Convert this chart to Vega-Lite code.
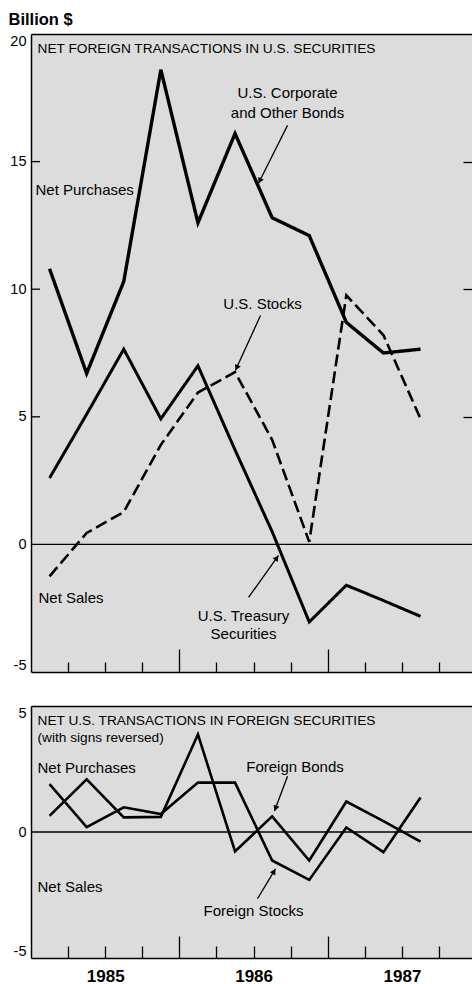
{
  "$schema": "https://vega.github.io/schema/vega-lite/v6.json",
  "padding": {"left": 8, "top": 12, "right": 0, "bottom": 2},
  "bounds": "flush",
  "spacing": 34,
  "config": {
    "view": {"stroke": null, "fill": "#dcdcdc"},
    "font": "Liberation Sans",
    "axis": {"grid": false, "domainColor": "black", "tickColor": "black", "labelColor": "black", "domainWidth": 1.5, "tickWidth": 1.3, "title": null},
    "text": {"font": "Liberation Sans", "fontSize": 15, "color": "black"}
  },
  "datasets": {
    "one": [{}],
    "yticks": [{"v": 5}, {"v": 10}, {"v": 15}],
    "us": [
      {"q": 0.5, "v": 10.8, "s": "Corporate"}, {"q": 1.5, "v": 6.7, "s": "Corporate"}, {"q": 2.5, "v": 10.3, "s": "Corporate"}, {"q": 3.5, "v": 18.6, "s": "Corporate"}, {"q": 4.5, "v": 12.6, "s": "Corporate"}, {"q": 5.5, "v": 16.1, "s": "Corporate"}, {"q": 6.5, "v": 12.8, "s": "Corporate"}, {"q": 7.5, "v": 12.1, "s": "Corporate"}, {"q": 8.5, "v": 8.7, "s": "Corporate"}, {"q": 9.5, "v": 7.5, "s": "Corporate"}, {"q": 10.5, "v": 7.65, "s": "Corporate"},
      {"q": 0.5, "v": 2.6, "s": "Treasury"}, {"q": 1.5, "v": 5.1, "s": "Treasury"}, {"q": 2.5, "v": 7.65, "s": "Treasury"}, {"q": 3.5, "v": 4.92, "s": "Treasury"}, {"q": 4.5, "v": 7.0, "s": "Treasury"}, {"q": 5.5, "v": 3.7, "s": "Treasury"}, {"q": 6.5, "v": 0.5, "s": "Treasury"}, {"q": 7.5, "v": -3.04, "s": "Treasury"}, {"q": 8.5, "v": -1.6, "s": "Treasury"}, {"q": 9.5, "v": -2.2, "s": "Treasury"}, {"q": 10.5, "v": -2.82, "s": "Treasury"},
      {"q": 0.5, "v": -1.25, "s": "Stocks"}, {"q": 1.5, "v": 0.45, "s": "Stocks"}, {"q": 2.5, "v": 1.27, "s": "Stocks"}, {"q": 3.5, "v": 3.9, "s": "Stocks"}, {"q": 4.5, "v": 5.95, "s": "Stocks"}, {"q": 5.5, "v": 6.75, "s": "Stocks"}, {"q": 6.5, "v": 4.1, "s": "Stocks"}, {"q": 7.5, "v": 0.1, "s": "Stocks"}, {"q": 8.5, "v": 9.76, "s": "Stocks"}, {"q": 9.5, "v": 8.2, "s": "Stocks"}, {"q": 10.5, "v": 4.92, "s": "Stocks"}
    ],
    "foreign": [
      {"q": 0.5, "v": 1.9, "s": "Foreign Stocks"}, {"q": 1.5, "v": 0.19, "s": "Foreign Stocks"}, {"q": 2.5, "v": 0.98, "s": "Foreign Stocks"}, {"q": 3.5, "v": 0.71, "s": "Foreign Stocks"}, {"q": 4.5, "v": 1.96, "s": "Foreign Stocks"}, {"q": 5.5, "v": 1.96, "s": "Foreign Stocks"}, {"q": 6.5, "v": -1.13, "s": "Foreign Stocks"}, {"q": 7.5, "v": -1.9, "s": "Foreign Stocks"}, {"q": 8.5, "v": 0.18, "s": "Foreign Stocks"}, {"q": 9.5, "v": -0.8, "s": "Foreign Stocks"}, {"q": 10.5, "v": 1.37, "s": "Foreign Stocks"},
      {"q": 0.5, "v": 0.64, "s": "Foreign Bonds"}, {"q": 1.5, "v": 2.09, "s": "Foreign Bonds"}, {"q": 2.5, "v": 0.58, "s": "Foreign Bonds"}, {"q": 3.5, "v": 0.6, "s": "Foreign Bonds"}, {"q": 4.5, "v": 3.87, "s": "Foreign Bonds"}, {"q": 5.5, "v": -0.77, "s": "Foreign Bonds"}, {"q": 6.5, "v": 0.62, "s": "Foreign Bonds"}, {"q": 7.5, "v": -1.13, "s": "Foreign Bonds"}, {"q": 8.5, "v": 1.21, "s": "Foreign Bonds"}, {"q": 9.5, "v": 0.43, "s": "Foreign Bonds"}, {"q": 10.5, "v": -0.38, "s": "Foreign Bonds"}
    ]
  },
  "vconcat": [
    {
      "width": 441,
      "height": 638,
      "resolve": {"axis": {"x": "independent", "y": "independent"}},
      "layer": [
        {
          "data": {"name": "one"},
          "mark": {"type": "rule", "color": "black", "strokeWidth": 1.3},
          "encoding": {
            "y": {"datum": 0, "type": "quantitative", "scale": {"domain": [-5, 20], "nice": false, "zero": false},
                  "axis": {"orient": "right", "values": [5, 10, 15], "tickSize": -9, "labels": false, "domain": false}}
          }
        },
        {
          "data": {"name": "yticks"},
          "mark": {"type": "rule", "color": "black", "strokeWidth": 1.3},
          "encoding": {
            "y": {"field": "v", "type": "quantitative", "axis": null},
            "x": {"datum": 0, "type": "quantitative", "axis": null},
            "x2": {"datum": 0.243}
          }
        },
        {
          "data": {"name": "us"},
          "mark": {"type": "line", "color": "black"},
          "encoding": {
            "x": {"field": "q", "type": "quantitative", "scale": {"domain": [0, 11.887], "nice": false, "zero": false},
                  "axis": {"orient": "bottom", "values": [1, 2, 3, 4, 5, 6, 7, 8, 9, 10, 11], "labels": false,
                           "tickSize": {"condition": {"test": "datum.value == 4 || datum.value == 8", "value": -23}, "value": -10}}},
            "y": {"field": "v", "type": "quantitative", "scale": {"domain": [-5, 20], "nice": false, "zero": false},
                  "axis": {"orient": "left", "values": [-5, 0, 5, 10, 15, 20], "ticks": false,
                           "labelPadding": 5, "labelFlush": true, "labelFontSize": 14.5, "labelFont": "Liberation Sans", "labelExpr": "replace(datum.label, '\u2212', '-')"}},
            "strokeDash": {"field": "s", "type": "nominal", "scale": {"domain": ["Corporate", "Treasury", "Stocks"], "range": [[1, 0], [1, 0], [12, 5]]}, "legend": null},
            "strokeWidth": {"field": "s", "type": "nominal", "scale": {"domain": ["Corporate", "Treasury", "Stocks"], "range": [3.4, 2.6, 2.6]}, "legend": null}
          }
        },
        {
          "data": {"name": "one"},
          "mark": {"type": "text", "align": "left", "baseline": "alphabetic", "fontSize": 13.7},
          "encoding": {
            "x": {"datum": 0.175, "type": "quantitative", "axis": {"orient": "top", "ticks": false, "labels": false, "domain": true}},
            "y": {"datum": 19.24, "type": "quantitative", "axis": null},
            "text": {"value": "NET FOREIGN TRANSACTIONS IN U.S. SECURITIES"}
          }
        },
        {
          "data": {"name": "one"},
          "mark": {"type": "text", "align": "left", "baseline": "alphabetic", "fontWeight": "bold", "fontSize": 16.5},
          "encoding": {
            "x": {"datum": -0.606, "type": "quantitative", "axis": null},
            "y": {"datum": 20.34, "type": "quantitative", "axis": null},
            "text": {"value": "Billion $"}
          }
        },
        {
          "data": {"name": "one"},
          "mark": {"type": "text", "align": "center", "baseline": "alphabetic", "lineHeight": 20},
          "encoding": {
            "x": {"datum": 6.914, "type": "quantitative", "axis": null},
            "y": {"datum": 17.48, "type": "quantitative", "axis": null},
            "text": {"value": ["U.S. Corporate", "and Other Bonds"]}
          }
        },
        {
          "data": {"name": "one"},
          "mark": {"type": "text", "align": "left", "baseline": "alphabetic"},
          "encoding": {
            "x": {"datum": 0.121, "type": "quantitative", "axis": null},
            "y": {"datum": 13.68, "type": "quantitative", "axis": null},
            "text": {"value": "Net Purchases"}
          }
        },
        {
          "data": {"name": "one"},
          "mark": {"type": "text", "align": "center", "baseline": "alphabetic"},
          "encoding": {
            "x": {"datum": 6.24, "type": "quantitative", "axis": null},
            "y": {"datum": 9.21, "type": "quantitative", "axis": null},
            "text": {"value": "U.S. Stocks"}
          }
        },
        {
          "data": {"name": "one"},
          "mark": {"type": "text", "align": "left", "baseline": "alphabetic"},
          "encoding": {
            "x": {"datum": 0.202, "type": "quantitative", "axis": null},
            "y": {"datum": -2.31, "type": "quantitative", "axis": null},
            "text": {"value": "Net Sales"}
          }
        },
        {
          "data": {"name": "one"},
          "mark": {"type": "text", "align": "center", "baseline": "alphabetic", "lineHeight": 18},
          "encoding": {
            "x": {"datum": 5.728, "type": "quantitative", "axis": null},
            "y": {"datum": -3.02, "type": "quantitative", "axis": null},
            "text": {"value": ["U.S. Treasury", "Securities"]}
          }
        },
        {
          "data": {"name": "one"},
          "mark": {"type": "rule", "color": "black", "strokeWidth": 1.3},
          "encoding": {
            "x": {"datum": 6.914, "type": "quantitative", "axis": null},
            "x2": {"datum": 6.132},
            "y": {"datum": 16.42, "type": "quantitative", "axis": null},
            "y2": {"datum": 14.15}
          }
        },
        {
          "data": {"name": "one"},
          "mark": {"type": "rule", "color": "black", "strokeWidth": 1.3},
          "encoding": {
            "x": {"datum": 6.186, "type": "quantitative", "axis": null},
            "x2": {"datum": 5.512},
            "y": {"datum": 8.97, "type": "quantitative", "axis": null},
            "y2": {"datum": 6.82}
          }
        },
        {
          "data": {"name": "one"},
          "mark": {"type": "rule", "color": "black", "strokeWidth": 1.3},
          "encoding": {
            "x": {"datum": 5.863, "type": "quantitative", "axis": null},
            "x2": {"datum": 6.671},
            "y": {"datum": -2.08, "type": "quantitative", "axis": null},
            "y2": {"datum": -0.43}
          }
        },
        {
          "data": {"name": "one"},
          "mark": {"type": "point", "shape": "triangle-up", "filled": true, "color": "black", "opacity": 1, "size": 40, "angle": 206.6},
          "encoding": {
            "x": {"datum": 6.167, "type": "quantitative", "axis": null},
            "y": {"datum": 14.25, "type": "quantitative", "axis": null}
          }
        },
        {
          "data": {"name": "one"},
          "mark": {"type": "point", "shape": "triangle-up", "filled": true, "color": "black", "opacity": 1, "size": 40, "angle": 204.4},
          "encoding": {
            "x": {"datum": 5.545, "type": "quantitative", "axis": null},
            "y": {"datum": 6.92, "type": "quantitative", "axis": null}
          }
        },
        {
          "data": {"name": "one"},
          "mark": {"type": "point", "shape": "triangle-up", "filled": true, "color": "black", "opacity": 1, "size": 40, "angle": 35.5},
          "encoding": {
            "x": {"datum": 6.625, "type": "quantitative", "axis": null},
            "y": {"datum": -0.53, "type": "quantitative", "axis": null}
          }
        }
      ]
    },
    {
      "width": 441,
      "height": 252,
      "resolve": {"axis": {"x": "independent", "y": "independent"}},
      "layer": [
        {
          "data": {"name": "one"},
          "mark": {"type": "rule", "color": "black", "strokeWidth": 1.3},
          "encoding": {
            "y": {"datum": 0, "type": "quantitative", "scale": {"domain": [-5, 5], "nice": false, "zero": false}, "axis": null}
          }
        },
        {
          "data": {"name": "foreign"},
          "mark": {"type": "line", "color": "black", "strokeWidth": 2.6},
          "encoding": {
            "x": {"field": "q", "type": "quantitative", "scale": {"domain": [0, 11.887], "nice": false, "zero": false},
                  "axis": {"orient": "bottom", "values": [1, 2, 3, 4, 5, 6, 7, 8, 9, 10, 11],
                           "tickSize": {"condition": {"test": "datum.value == 4 || datum.value == 8", "value": -22}, "value": -12},
                           "labelExpr": "datum.value == 2 ? '1985' : datum.value == 6 ? '1986' : datum.value == 10 ? '1987' : ''",
                           "labelFontSize": 17, "labelFontWeight": "bold", "labelPadding": 22, "labelFont": "Liberation Sans"}},
            "y": {"field": "v", "type": "quantitative", "scale": {"domain": [-5, 5], "nice": false, "zero": false},
                  "axis": {"orient": "left", "values": [-5, 0, 5], "ticks": false, "labelPadding": 5, "labelFlush": true, "labelFontSize": 14.5, "labelFont": "Liberation Sans", "labelExpr": "replace(datum.label, '\u2212', '-')"}},
            "detail": {"field": "s", "type": "nominal"}
          }
        },
        {
          "data": {"name": "one"},
          "mark": {"type": "text", "align": "left", "baseline": "alphabetic", "fontSize": 13.7, "lineHeight": 17},
          "encoding": {
            "x": {"datum": 0.175, "type": "quantitative", "axis": {"orient": "top", "ticks": false, "labels": false, "domain": true}},
            "y": {"datum": 4.23, "type": "quantitative", "axis": null},
            "text": {"value": ["NET U.S. TRANSACTIONS IN FOREIGN SECURITIES", "(with signs reversed)"]}
          }
        },
        {
          "data": {"name": "one"},
          "mark": {"type": "text", "align": "left", "baseline": "alphabetic"},
          "encoding": {
            "x": {"datum": 0.175, "type": "quantitative", "axis": null},
            "y": {"datum": 2.33, "type": "quantitative", "axis": null},
            "text": {"value": "Net Purchases"}
          }
        },
        {
          "data": {"name": "one"},
          "mark": {"type": "text", "align": "left", "baseline": "alphabetic"},
          "encoding": {
            "x": {"datum": 0.175, "type": "quantitative", "axis": null},
            "y": {"datum": -2.37, "type": "quantitative", "axis": null},
            "text": {"value": "Net Sales"}
          }
        },
        {
          "data": {"name": "one"},
          "mark": {"type": "text", "align": "center", "baseline": "alphabetic"},
          "encoding": {
            "x": {"datum": 7.116, "type": "quantitative", "axis": null},
            "y": {"datum": 2.37, "type": "quantitative", "axis": null},
            "text": {"value": "Foreign Bonds"}
          }
        },
        {
          "data": {"name": "one"},
          "mark": {"type": "text", "align": "center", "baseline": "alphabetic"},
          "encoding": {
            "x": {"datum": 5.997, "type": "quantitative", "axis": null},
            "y": {"datum": -3.32, "type": "quantitative", "axis": null},
            "text": {"value": "Foreign Stocks"}
          }
        },
        {
          "data": {"name": "one"},
          "mark": {"type": "rule", "color": "black", "strokeWidth": 1.3},
          "encoding": {
            "x": {"datum": 6.914, "type": "quantitative", "axis": null},
            "x2": {"datum": 6.563},
            "y": {"datum": 2.21, "type": "quantitative", "axis": null},
            "y2": {"datum": 0.83}
          }
        },
        {
          "data": {"name": "one"},
          "mark": {"type": "rule", "color": "black", "strokeWidth": 1.3},
          "encoding": {
            "x": {"datum": 6.105, "type": "quantitative", "axis": null},
            "x2": {"datum": 6.59},
            "y": {"datum": -2.65, "type": "quantitative", "axis": null},
            "y2": {"datum": -1.46}
          }
        },
        {
          "data": {"name": "one"},
          "mark": {"type": "point", "shape": "triangle-up", "filled": true, "color": "black", "opacity": 1, "size": 40, "angle": 200.4},
          "encoding": {
            "x": {"datum": 6.591, "type": "quantitative", "axis": null},
            "y": {"datum": 0.94, "type": "quantitative", "axis": null}
          }
        },
        {
          "data": {"name": "one"},
          "mark": {"type": "point", "shape": "triangle-up", "filled": true, "color": "black", "opacity": 1, "size": 40, "angle": 31},
          "encoding": {
            "x": {"datum": 6.55, "type": "quantitative", "axis": null},
            "y": {"datum": -1.565, "type": "quantitative", "axis": null}
          }
        }
      ]
    }
  ]
}
